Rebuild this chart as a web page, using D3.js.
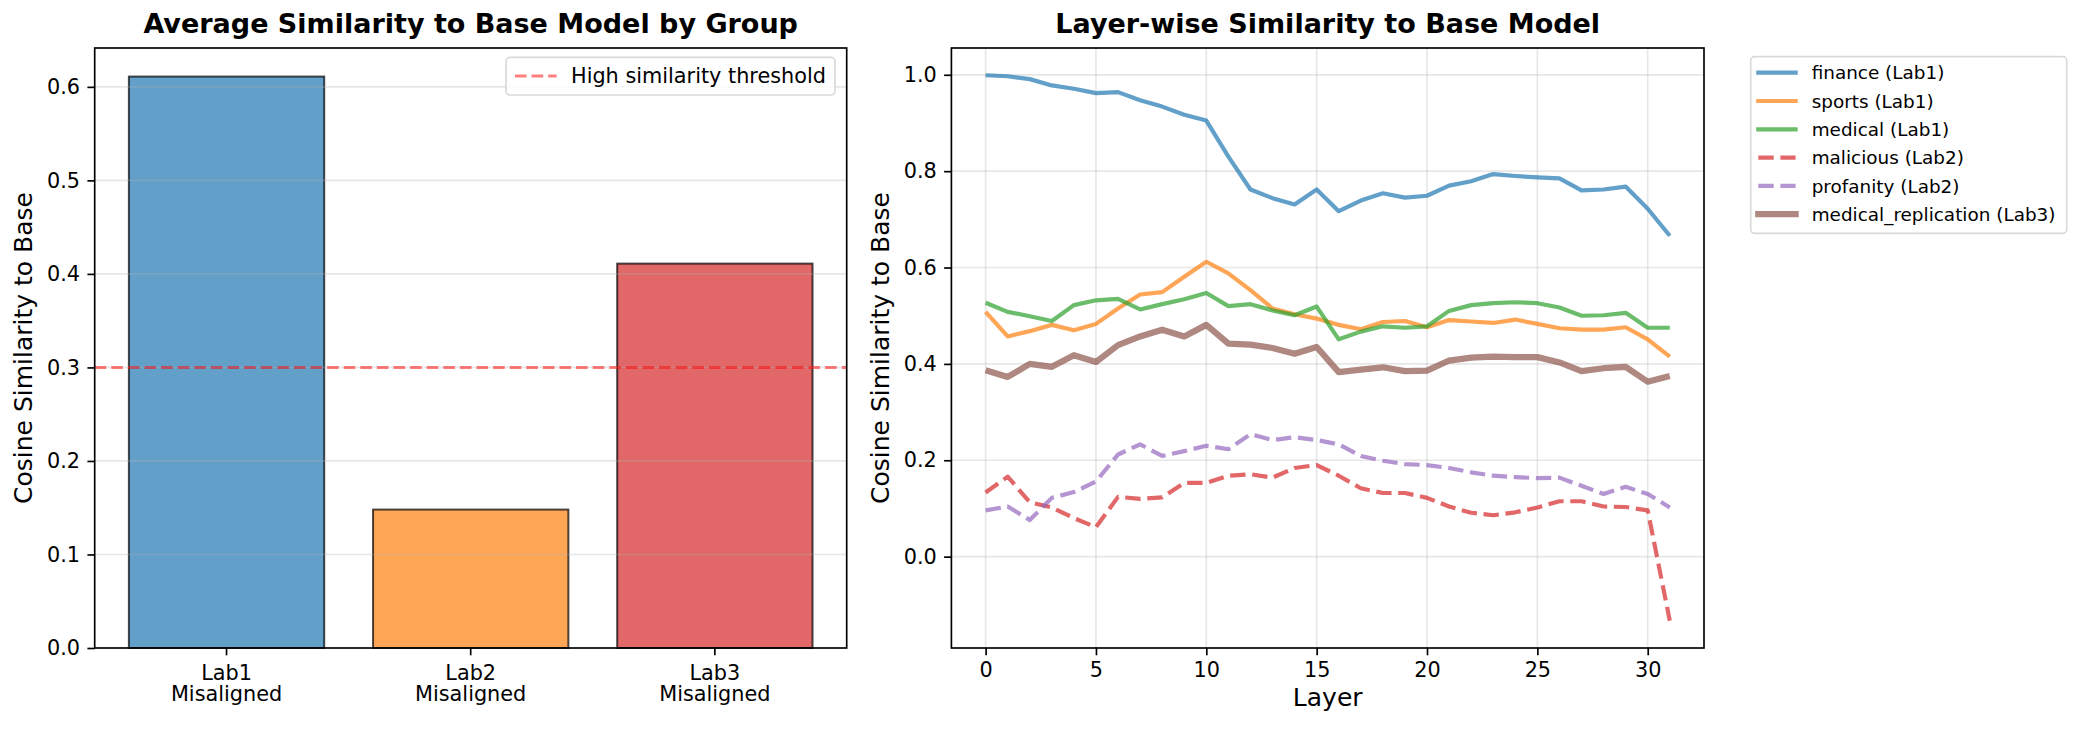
<!DOCTYPE html>
<html>
<head>
<meta charset="utf-8">
<script src="https://cdn.jsdelivr.net/npm/d3@7"></script>
<style>
  body { margin: 0; background: #fff; }
  svg { font-family: "DejaVu Sans", sans-serif; }
</style>
</head>
<body>
<svg id="chart" width="2081" height="730"></svg>
<script>
// bar chart data
const groups = ['Lab1\nMisaligned', 'Lab2\nMisaligned', 'Lab3\nMisaligned'];
const avgSimilarity = [0.611, 0.148, 0.411];
const barColors = ['#1f77b4', '#ff7f0e', '#d62728'];
const threshold = 0.3;

// layer-wise data
const finance = [0.999, 0.997, 0.991, 0.978, 0.971, 0.962, 0.964, 0.947, 0.934, 0.917, 0.905,
  0.830, 0.762, 0.744, 0.731, 0.762, 0.717, 0.739, 0.754, 0.745, 0.749, 0.770, 0.779, 0.794,
  0.790, 0.787, 0.785, 0.760, 0.762, 0.768, 0.722, 0.666];
const sports = [0.508, 0.457, 0.468, 0.481, 0.470, 0.483, 0.515, 0.544, 0.549, 0.581, 0.612,
  0.588, 0.553, 0.515, 0.503, 0.494, 0.481, 0.472, 0.487, 0.489, 0.476, 0.491, 0.488, 0.485,
  0.492, 0.483, 0.474, 0.471, 0.471, 0.476, 0.451, 0.415];
const medical = [0.527, 0.508, 0.499, 0.489, 0.522, 0.532, 0.535, 0.513, 0.524, 0.534, 0.547,
  0.520, 0.524, 0.511, 0.501, 0.519, 0.451, 0.467, 0.478, 0.475, 0.478, 0.510, 0.522, 0.526,
  0.528, 0.526, 0.517, 0.500, 0.501, 0.506, 0.475, 0.475];
const malicious = [0.133, 0.166, 0.113, 0.102, 0.080, 0.061, 0.124, 0.120, 0.123, 0.153, 0.153,
  0.168, 0.171, 0.164, 0.184, 0.190, 0.168, 0.142, 0.132, 0.132, 0.122, 0.104, 0.091, 0.086,
  0.092, 0.102, 0.115, 0.115, 0.104, 0.103, 0.096, -0.133];
const profanity = [0.096, 0.104, 0.076, 0.122, 0.134, 0.156, 0.212, 0.233, 0.209, 0.219, 0.230,
  0.223, 0.254, 0.242, 0.248, 0.242, 0.233, 0.209, 0.199, 0.192, 0.190, 0.184, 0.175, 0.168,
  0.165, 0.163, 0.164, 0.147, 0.130, 0.145, 0.130, 0.102];
const medicalReplication = [0.387, 0.373, 0.400, 0.394, 0.418, 0.404, 0.439, 0.457, 0.471, 0.457, 0.481,
  0.442, 0.440, 0.433, 0.421, 0.435, 0.383, 0.388, 0.393, 0.385, 0.386, 0.407, 0.413, 0.415,
  0.414, 0.414, 0.403, 0.385, 0.391, 0.394, 0.363, 0.375];

const seriesNames = ['finance (Lab1)', 'sports (Lab1)', 'medical (Lab1)', 'malicious (Lab2)',
  'profanity (Lab2)', 'medical_replication (Lab3)'];
const seriesValues = [finance, sports, medical, malicious, profanity, medicalReplication];
const seriesColors = ['#1f77b4', '#ff7f0e', '#2ca02c', '#d62728', '#9467bd', '#8c564b'];
const seriesDashed = [false, false, false, true, true, false];
const seriesWidth = [4.17, 4.17, 4.17, 4.17, 4.17, 6.25];

const svg = d3.select('#chart');
const plotTop = 48, plotBottom = 648;
const tickFont = 20.8;

function frame(g, x0, x1) {
  g.append('rect')
    .attr('x', x0).attr('y', plotTop)
    .attr('width', x1 - x0).attr('height', plotBottom - plotTop)
    .attr('fill', 'none')
    .attr('stroke', '#000')
    .attr('stroke-width', 1.67);
}

function styleAxis(sel) {
  sel.select('.domain').remove();
  sel.selectAll('.tick line').attr('stroke', '#000').attr('stroke-width', 1.67);
  sel.selectAll('.tick text').attr('font-size', tickFont).attr('fill', '#000')
    .attr('font-family', 'DejaVu Sans');
}

// ---------- left: bar chart ----------
const L = { x0: 94.7, x1: 846.7 };
const left = svg.append('g');

const xBar = d3.scaleLinear().domain([-0.54, 2.54]).range([L.x0, L.x1]);
const yBar = d3.scaleLinear().domain([0, d3.max(avgSimilarity) * 1.05]).range([plotBottom, plotTop]);

left.append('g')
  .attr('transform', `translate(${L.x0},0)`)
  .call(d3.axisLeft(yBar).tickValues([0, 0.1, 0.2, 0.3, 0.4, 0.5, 0.6]).tickFormat(d3.format('.1f'))
    .tickSize(7.3).tickPadding(7.3))
  .call(styleAxis);

left.selectAll('rect.bar')
  .data(avgSimilarity)
  .enter()
  .append('rect')
  .attr('class', 'bar')
  .attr('x', (d, i) => xBar(i - 0.4))
  .attr('width', xBar(0.8) - xBar(0))
  .attr('y', d => yBar(d))
  .attr('height', d => yBar(0) - yBar(d))
  .attr('fill', (d, i) => barColors[i])
  .attr('fill-opacity', 0.7)
  .attr('stroke', '#000')
  .attr('stroke-opacity', 0.7)
  .attr('stroke-width', 2);

// horizontal grid (drawn above bars, like matplotlib)
left.selectAll('line.grid')
  .data([0.1, 0.2, 0.3, 0.4, 0.5, 0.6])
  .enter()
  .append('line')
  .attr('x1', L.x0).attr('x2', L.x1)
  .attr('y1', d => yBar(d)).attr('y2', d => yBar(d))
  .attr('stroke', '#b0b0b0').attr('stroke-opacity', 0.3).attr('stroke-width', 1.67);

left.append('line')
  .attr('x1', L.x0).attr('x2', L.x1)
  .attr('y1', yBar(threshold)).attr('y2', yBar(threshold))
  .attr('stroke', 'red').attr('stroke-opacity', 0.5)
  .attr('stroke-width', 3.1).attr('stroke-dasharray', '11.6,5');

const xTicks = left.append('g');
groups.forEach((g, i) => {
  const cx = xBar(i);
  xTicks.append('line')
    .attr('x1', cx).attr('x2', cx).attr('y1', plotBottom).attr('y2', plotBottom + 7.3)
    .attr('stroke', '#000').attr('stroke-width', 1.67);
  g.split('\n').forEach((line, j) => {
    xTicks.append('text')
      .attr('x', cx).attr('y', 679.5 + j * 21.3)
      .attr('text-anchor', 'middle')
      .attr('font-size', tickFont)
      .text(line);
  });
});

frame(left, L.x0, L.x1);

left.append('text')
  .attr('transform', `translate(23.3,${(plotTop + plotBottom) / 2}) rotate(-90)`)
  .attr('text-anchor', 'middle').attr('dy', '0.36em')
  .attr('font-size', 25)
  .text('Cosine Similarity to Base');

left.append('text')
  .attr('x', (L.x0 + L.x1) / 2).attr('y', 33)
  .attr('text-anchor', 'middle')
  .attr('font-size', 27).attr('font-weight', 'bold')
  .text('Average Similarity to Base Model by Group');

// legend for threshold
const lg = left.append('g');
lg.append('rect')
  .attr('x', 506).attr('y', 57.3).attr('width', 329).attr('height', 37.7)
  .attr('rx', 4).attr('fill', '#fff').attr('fill-opacity', 0.8)
  .attr('stroke', '#d9d9d9').attr('stroke-width', 1.67);
lg.append('line')
  .attr('x1', 515).attr('x2', 556.6).attr('y1', 76).attr('y2', 76)
  .attr('stroke', 'red').attr('stroke-opacity', 0.5)
  .attr('stroke-width', 3.1).attr('stroke-dasharray', '11.6,5');
lg.append('text')
  .attr('x', 571).attr('y', 76).attr('dy', '0.36em')
  .attr('font-size', tickFont)
  .text('High similarity threshold');

// ---------- right: layer-wise lines ----------
const R = { x0: 951.4, x1: 1704 };
const right = svg.append('g');
const layers = finance.map((d, i) => i);

const allVals = seriesValues.flat();
const vMin = d3.min(allVals), vMax = d3.max(allVals);
const padY = (vMax - vMin) * 0.05;
const xLine = d3.scaleLinear().domain([-1.55, 32.55]).range([R.x0, R.x1]);
const yLine = d3.scaleLinear().domain([vMin - padY, vMax + padY]).range([plotBottom, plotTop]);

const yTicksR = [0, 0.2, 0.4, 0.6, 0.8, 1.0];
const xTicksR = [0, 5, 10, 15, 20, 25, 30];

right.selectAll('line.hgrid')
  .data(yTicksR).enter().append('line')
  .attr('x1', R.x0).attr('x2', R.x1)
  .attr('y1', d => yLine(d)).attr('y2', d => yLine(d))
  .attr('stroke', '#b0b0b0').attr('stroke-opacity', 0.3).attr('stroke-width', 1.67);
right.selectAll('line.vgrid')
  .data(xTicksR).enter().append('line')
  .attr('y1', plotTop).attr('y2', plotBottom)
  .attr('x1', d => xLine(d)).attr('x2', d => xLine(d))
  .attr('stroke', '#b0b0b0').attr('stroke-opacity', 0.3).attr('stroke-width', 1.67);

right.append('g')
  .attr('transform', `translate(${R.x0},0)`)
  .call(d3.axisLeft(yLine).tickValues(yTicksR).tickFormat(d3.format('.1f'))
    .tickSize(7.3).tickPadding(7.3))
  .call(styleAxis);
right.append('g')
  .attr('transform', `translate(0,${plotBottom})`)
  .call(d3.axisBottom(xLine).tickValues(xTicksR).tickFormat(d3.format('d'))
    .tickSize(7.3).tickPadding(7.3))
  .call(styleAxis);

const line = d3.line().x((d, i) => xLine(layers[i])).y(d => yLine(d));

right.selectAll('path.series')
  .data(seriesValues)
  .enter()
  .append('path')
  .attr('class', 'series')
  .attr('d', line)
  .attr('fill', 'none')
  .attr('stroke', (d, i) => seriesColors[i])
  .attr('stroke-opacity', 0.7)
  .attr('stroke-width', (d, i) => seriesWidth[i])
  .attr('stroke-linejoin', 'round')
  .attr('stroke-dasharray', (d, i) => seriesDashed[i] ? '15.4,6.7' : null);

frame(right, R.x0, R.x1);

right.append('text')
  .attr('transform', `translate(880,${(plotTop + plotBottom) / 2}) rotate(-90)`)
  .attr('text-anchor', 'middle').attr('dy', '0.36em')
  .attr('font-size', 25)
  .text('Cosine Similarity to Base');

right.append('text')
  .attr('x', (R.x0 + R.x1) / 2).attr('y', 706)
  .attr('text-anchor', 'middle')
  .attr('font-size', 25)
  .text('Layer');

right.append('text')
  .attr('x', (R.x0 + R.x1) / 2).attr('y', 33)
  .attr('text-anchor', 'middle')
  .attr('font-size', 27).attr('font-weight', 'bold')
  .text('Layer-wise Similarity to Base Model');

// legend outside on the right
const leg = svg.append('g');
leg.append('rect')
  .attr('x', 1750.7).attr('y', 56.7).attr('width', 316).attr('height', 176.6)
  .attr('rx', 4).attr('fill', '#fff').attr('fill-opacity', 0.8)
  .attr('stroke', '#d9d9d9').attr('stroke-width', 1.67);
seriesNames.forEach((name, i) => {
  const yy = 72.7 + i * 28.3;
  leg.append('line')
    .attr('x1', 1758.3).attr('x2', 1795.6).attr('y1', yy).attr('y2', yy)
    .attr('stroke', seriesColors[i]).attr('stroke-opacity', 0.7)
    .attr('stroke-width', seriesWidth[i])
    .attr('stroke-linecap', seriesDashed[i] ? 'butt' : 'square')
    .attr('stroke-dasharray', seriesDashed[i] ? '15.4,6.7' : null);
  leg.append('text')
    .attr('x', 1811.7).attr('y', yy).attr('dy', '0.36em')
    .attr('font-size', 18.4)
    .text(name);
});
</script>
</body>
</html>
